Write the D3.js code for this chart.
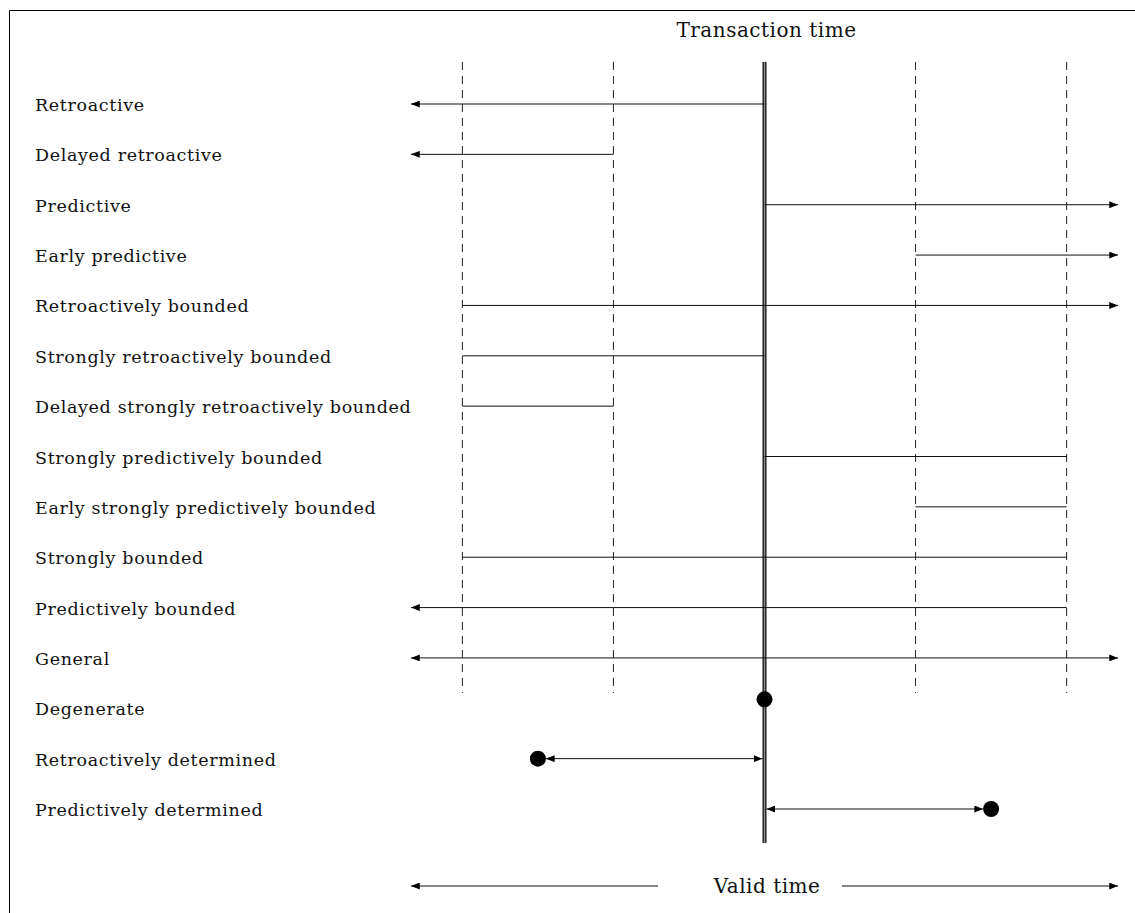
<!DOCTYPE html>
<html>
<head>
<meta charset="utf-8">
<script src="https://cdn.jsdelivr.net/npm/d3@7"></script>
<style>
  body { margin: 0; background: #fff; }
  text { font-family: 'DejaVu Serif', serif; fill: #111; }
  .row-label { font-size: 17.5px; letter-spacing: 0.65px; }
  .axis-title { font-size: 20px; letter-spacing: 0.5px; }
</style>
</head>
<body>
<svg id="chart"></svg>
<script>
const width = 1135;
const height = 913;

// one row per kind of temporal relationship
const rowLabels = [
  'Retroactive',
  'Delayed retroactive',
  'Predictive',
  'Early predictive',
  'Retroactively bounded',
  'Strongly retroactively bounded',
  'Delayed strongly retroactively bounded',
  'Strongly predictively bounded',
  'Early strongly predictively bounded',
  'Strongly bounded',
  'Predictively bounded',
  'General',
  'Degenerate',
  'Retroactively determined',
  'Predictively determined',
];
// valid-time interval, relative to transaction time (0); +-Infinity = open-ended arrow
const rowFrom = [0, -1, 0, 1, -2, -2, -2, 0, 1, -2, 2, -Infinity, null, -1.5, 0];
const rowTo = [-Infinity, -Infinity, Infinity, Infinity, Infinity, 0, -1, 2, 2, 2, -Infinity, Infinity, null, 0, 1.5];
// fixed points drawn as dots
const rowDot = [null, null, null, null, null, null, null, null, null, null, null, null, 0, -1.5, 1.5];
const bothHeads = [false, false, false, false, false, false, false, false, false, false, false, true, false, true, true];

const guideTicks = [-2, -1, 1, 2];
const edge = 2.34;

const svg = d3.select('#chart').attr('width', width).attr('height', height);

const x = d3.scaleLinear().domain([-edge, edge]).range([411, 1118]);
const y = d3.scalePoint().domain(d3.range(rowLabels.length)).range([104, 809]);
const clampX = v => x(Math.max(-edge, Math.min(edge, v)));

const defs = svg.append('defs');
defs.append('marker')
  .attr('id', 'head')
  .attr('viewBox', '0 -4 10 8')
  .attr('refX', 10).attr('refY', 0)
  .attr('markerWidth', 9).attr('markerHeight', 7)
  .attr('markerUnits', 'userSpaceOnUse')
  .attr('orient', 'auto-start-reverse')
  .append('path')
    .attr('d', 'M0,-4L10,0L0,4Z')
    .attr('fill', '#000');

// frame (only top and left edges show)
svg.append('path')
  .attr('d', `M9.5,${height} V10.5 H${width}`)
  .attr('fill', 'none')
  .attr('stroke', '#000')
  .attr('stroke-width', 1);

// dashed guides
svg.append('g')
  .selectAll('line')
  .data(guideTicks)
  .enter().append('line')
  .attr('x1', d => x(d)).attr('x2', d => x(d))
  .attr('y1', 62).attr('y2', 693)
  .attr('stroke', '#222')
  .attr('stroke-width', 1)
  .attr('stroke-dasharray', '8,6');

// transaction time axis (double rule)
svg.append('line')
  .attr('x1', x(0)).attr('x2', x(0))
  .attr('y1', 62).attr('y2', 843)
  .attr('stroke', '#111').attr('stroke-width', 4);
svg.append('line')
  .attr('x1', x(0)).attr('x2', x(0))
  .attr('y1', 62).attr('y2', 843)
  .attr('stroke', '#8a8a8a').attr('stroke-width', 1.5);

svg.append('text')
  .attr('class', 'axis-title')
  .attr('x', x(0) + 2)
  .attr('y', 37)
  .attr('text-anchor', 'middle')
  .text('Transaction time');

// row labels
svg.append('g')
  .selectAll('text')
  .data(rowLabels)
  .enter().append('text')
  .attr('class', 'row-label')
  .attr('x', 35)
  .attr('y', (d, i) => y(i) + 7)
  .text(d => d);

// intervals
const rows = rowLabels.map((d, i) => ({ i, from: rowFrom[i], to: rowTo[i], dot: rowDot[i], both: bothHeads[i] }));
const dotR = 8;

svg.append('g')
  .selectAll('line')
  .data(rows.filter(d => d.from !== null))
  .enter().append('line')
  .each(function (d) {
    let x1 = clampX(d.from);
    let x2 = clampX(d.to);
    const dir = Math.sign(x2 - x1);
    if (d.dot !== null) {
      // determined rows: shorten to meet the dot and the rule
      if (d.from === d.dot) x1 += dir * dotR;
      if (d.to === d.dot) x2 -= dir * dotR;
      if (d.from === 0) x1 += dir * 2;
      if (d.to === 0) x2 -= dir * 2;
    }
    const line = d3.select(this)
      .attr('x1', x1).attr('x2', x2)
      .attr('y1', y(d.i)).attr('y2', y(d.i))
      .attr('stroke', '#111')
      .attr('stroke-width', 1);
    const openEnd = !isFinite(d.to);
    if (openEnd || d.dot !== null) line.attr('marker-end', 'url(#head)');
    if (d.both) line.attr('marker-start', 'url(#head)');
  });

// the degenerate point sits a little above its row
svg.append('g')
  .selectAll('circle')
  .data(rows.filter(d => d.dot !== null))
  .enter().append('circle')
  .attr('cx', d => x(d.dot))
  .attr('cy', d => y(d.i) - (d.from === null ? 9 : 0))
  .attr('r', dotR)
  .attr('fill', '#000');

// valid time axis
const validY = 886;
svg.append('line')
  .attr('x1', 658).attr('x2', x(-edge))
  .attr('y1', validY).attr('y2', validY)
  .attr('stroke', '#111').attr('stroke-width', 1)
  .attr('marker-end', 'url(#head)');
svg.append('line')
  .attr('x1', 842).attr('x2', x(edge))
  .attr('y1', validY).attr('y2', validY)
  .attr('stroke', '#111').attr('stroke-width', 1)
  .attr('marker-end', 'url(#head)');
svg.append('text')
  .attr('class', 'axis-title')
  .attr('x', 767)
  .attr('y', validY + 7)
  .attr('text-anchor', 'middle')
  .text('Valid time');
</script>
</body>
</html>
